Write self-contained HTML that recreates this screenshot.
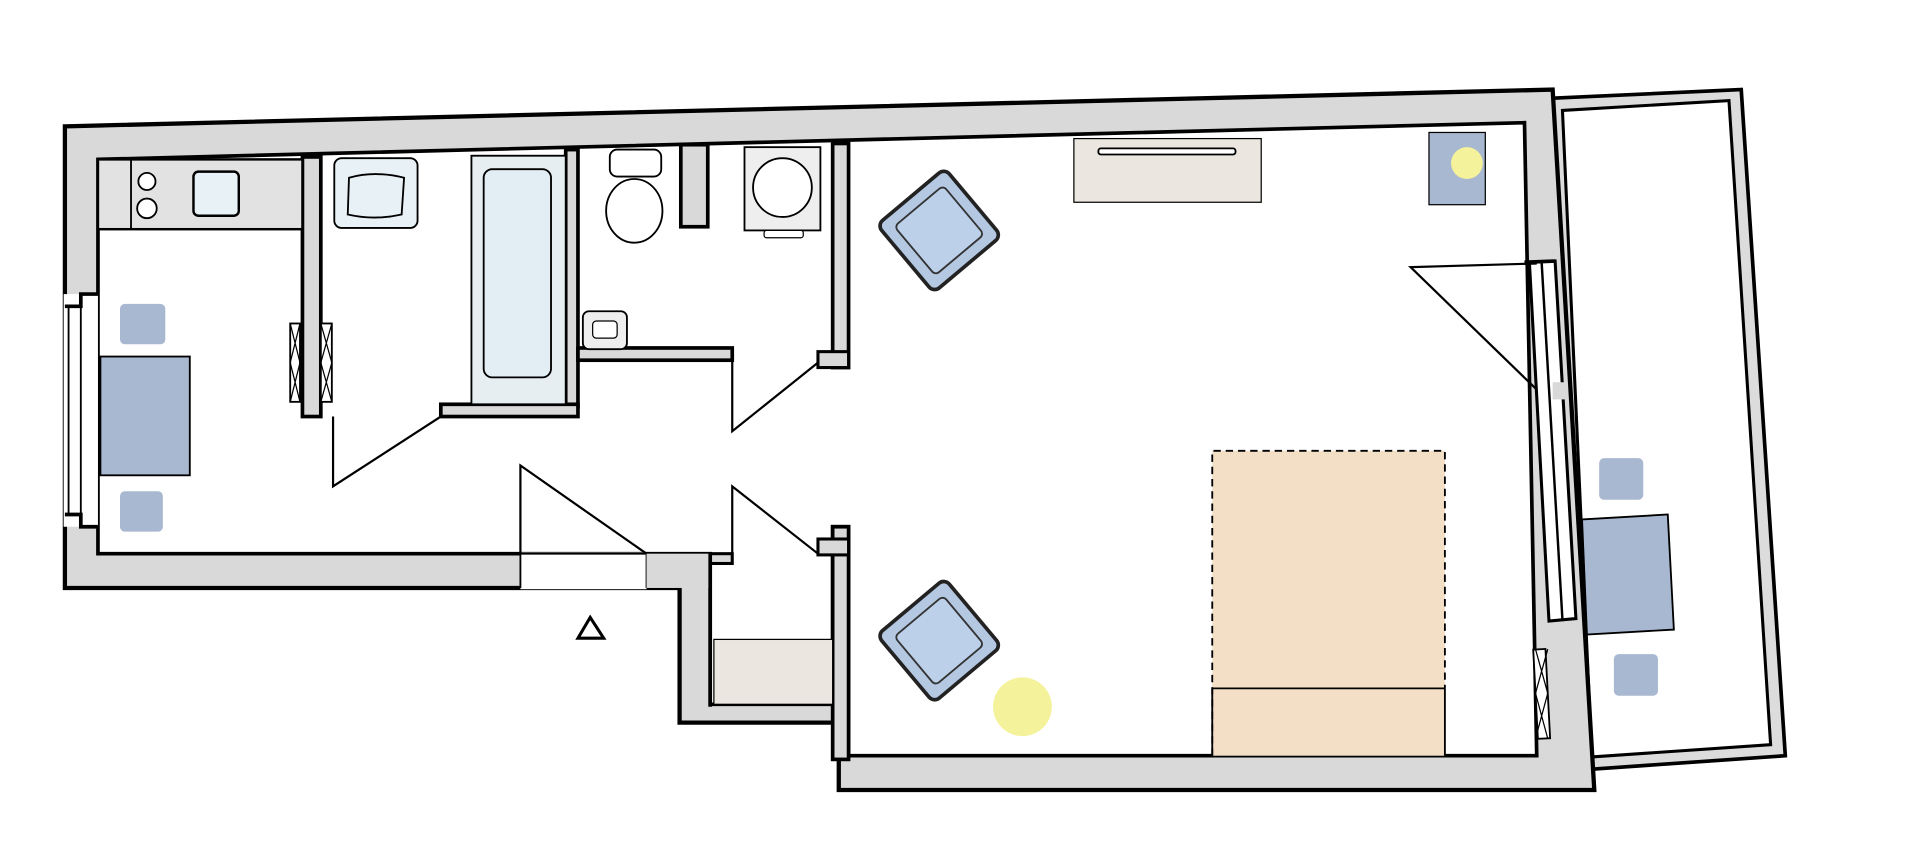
<!DOCTYPE html>
<html><head><meta charset="utf-8"><style>html,body{margin:0;padding:0;background:#fff}svg{display:block}</style></head>
<body>
<svg width="1920" height="849" viewBox="0 0 1568 693" xmlns="http://www.w3.org/2000/svg">
<g stroke="#000" stroke-linejoin="miter">
<!-- balcony -->
<polygon points="1268,80 1422,73 1458,617 1300,628" fill="#dcdcdc" stroke-width="3"/>
<polygon points="1276,90 1412,82 1446,608 1300,618" fill="#fff" stroke-width="2.5"/>
<!-- outer walls -->
<polygon points="53,103 1268,73 1302,645 685,645 685,590 555,590 555,480 53,480" fill="#d9d9d9" stroke-width="3.5"/>
<!-- interior -->
<polygon points="80,130 1245,100 1255,617 693,617 693,430 680,430 680,575 580,575 580,452 80,452" fill="#fff" stroke-width="3"/>
<!-- entrance opening -->
<rect x="425" y="451" width="103" height="30" fill="#fff" stroke="none"/>
<line x1="425" y1="452" x2="528" y2="452" stroke-width="1.5"/>
<line x1="425" y1="452" x2="425" y2="480" stroke-width="1.5"/>
<line x1="528" y1="452" x2="528" y2="480" stroke-width="1.5"/>
<rect x="528" y="452" width="52" height="28" fill="#d9d9d9" stroke="none"/>
<!-- left window -->
<rect x="52" y="240" width="28" height="190" fill="#fff" stroke="none"/>
<polyline points="80,240 66,240 66,250 53,250" fill="none" stroke-width="3"/>
<polyline points="80,430 66,430 66,420 53,420" fill="none" stroke-width="3"/>
<line x1="56" y1="250" x2="56" y2="420" stroke-width="1.5"/>
<line x1="66" y1="250" x2="66" y2="420" stroke-width="1.5"/>
<!-- interior walls -->
<rect x="247" y="128" width="15" height="212" fill="#d9d9d9" stroke-width="3"/>
<rect x="462" y="122" width="10" height="210" fill="#d9d9d9" stroke-width="3"/>
<rect x="360" y="330" width="112" height="10" fill="#d9d9d9" stroke-width="3"/>
<rect x="472" y="284" width="126" height="10" fill="#d9d9d9" stroke-width="3"/>
<rect x="556" y="118" width="22" height="67" fill="#d9d9d9" stroke-width="3"/>
<rect x="680" y="117" width="13" height="183" fill="#d9d9d9" stroke-width="3"/>
<rect x="668" y="287" width="25" height="13" fill="#d9d9d9" stroke-width="2.5"/>
<rect x="680" y="430" width="13" height="190" fill="#d9d9d9" stroke-width="3"/>
<rect x="668" y="440" width="25" height="13" fill="#d9d9d9" stroke-width="2.5"/>
<rect x="580" y="452" width="18" height="8" fill="#d9d9d9" stroke-width="2.5"/>
<line x1="580" y1="452" x2="580" y2="577" stroke-width="3"/>
<!-- right window -->
<polygon points="1249,214 1270,213 1287,505 1265,507" fill="#fff" stroke-width="2.5"/>
<line x1="1259" y1="214" x2="1276" y2="506" stroke-width="2"/>
<rect x="1268" y="312" width="12" height="14" fill="#d9d9d9" stroke="none"/>
<line x1="1245" y1="214" x2="1270" y2="213" stroke-width="3"/>
<!-- kitchen -->
<rect x="80" y="130" width="167" height="57" fill="#e2e2e2" stroke-width="2"/>
<line x1="107" y1="130" x2="107" y2="187" stroke-width="1.5"/>
<circle cx="120" cy="148" r="7" fill="#fff" stroke-width="1.5"/>
<circle cx="120" cy="170" r="8" fill="#fff" stroke-width="1.5"/>
<rect x="158" y="140" width="37" height="36" rx="4" fill="#e8f2f6" stroke-width="2"/>
<rect x="82" y="291" width="73" height="97" fill="#a8b8d0" stroke-width="1.5"/>
<rect x="98" y="248" width="37" height="33" rx="4" fill="#a8b8d0" stroke="none"/>
<rect x="98" y="401" width="35" height="33" rx="4" fill="#a8b8d0" stroke="none"/>
<rect x="237" y="264" width="8" height="64" fill="#fff" stroke-width="1.5"/>
<path d="M237,264 L245,296 L237,328 M245,264 L237,296 L245,328" fill="none" stroke-width="1"/>
<rect x="262" y="264" width="9" height="64" fill="#fff" stroke-width="1.5"/>
<path d="M262,264 L271,296 L262,328 M271,264 L262,296 L271,328" fill="none" stroke-width="1"/>
<!-- bath -->
<rect x="273" y="129" width="68" height="57" rx="6" fill="#e8f2f6" stroke-width="1.5"/>
<path d="M285,145 Q306,139 330,145 L328,175 Q306,180 284,175 Z" fill="#e8f2f6" stroke-width="1.5"/>
<rect x="385" y="127" width="77" height="203" fill="#e6eef2" stroke-width="1.5"/>
<rect x="395" y="138" width="55" height="170" rx="7" fill="#e2eef4" stroke-width="1.5"/>
<polyline points="272,340 272,397 360,340" fill="none" stroke-width="1.8"/>
<!-- WC -->
<rect x="498" y="122" width="42" height="22" rx="6" fill="#fff" stroke-width="1.5"/>
<ellipse cx="518" cy="172" rx="23" ry="26" fill="#fff" stroke-width="1.5"/>
<rect x="476" y="254" width="36" height="31" rx="5" fill="#eee" stroke-width="1.5"/>
<rect x="484" y="262" width="20" height="14" rx="3" fill="#fff" stroke-width="1"/>
<rect x="608" y="120" width="62" height="68" fill="#eee" stroke-width="1.5"/>
<circle cx="639" cy="153" r="24" fill="#fff" stroke-width="1.5"/>
<rect x="624" y="188" width="32" height="6" rx="2" fill="#fff" stroke-width="1"/>
<polyline points="598,294 598,352 668,296" fill="none" stroke-width="1.8"/>
<!-- hall doors -->
<polyline points="598,452 598,397 668,452" fill="none" stroke-width="1.8"/>
<polyline points="425,452 425,380 528,452" fill="none" stroke-width="1.8"/>
<rect x="583" y="522" width="97" height="53" fill="#ece6e0" stroke-width="1"/>
<polygon points="482,504 472,521 493,521" fill="none" stroke-width="2.5"/>
<!-- bedroom -->
<rect x="877" y="113" width="153" height="52" fill="#ece6e0" stroke-width="1"/>
<rect x="897" y="121" width="112" height="5" rx="2" fill="#fff" stroke-width="1.5"/>
<rect x="1167" y="108" width="46" height="59" fill="#a8b8d0" stroke-width="1"/>
<circle cx="1198" cy="133" r="13" fill="#f4f29a" stroke="none"/>
<polyline points="1255,318 1152,218 1255,215" fill="none" stroke-width="1.8"/>
<rect x="990" y="368" width="190" height="249" fill="#f3dfc6" stroke="none"/>
<path d="M990,617 L990,368 L1180,368 L1180,562" fill="none" stroke-width="1.5" stroke-dasharray="6,4"/>
<line x1="990" y1="562" x2="1180" y2="562" stroke-width="1.5"/>
<line x1="990" y1="562" x2="990" y2="617" stroke-width="1.5"/>
<line x1="1180" y1="562" x2="1180" y2="617" stroke-width="1.5"/>
<circle cx="835" cy="577" r="24" fill="#f4f29a" stroke="none"/>
<rect x="1254" y="530" width="10" height="73" fill="#fff" stroke-width="1.5" transform="rotate(-3 1259 566)"/>
<path d="M1254,530 L1264,566 L1254,603 M1264,530 L1254,566 L1264,603" fill="none" stroke-width="1"/>
<!-- armchairs -->
<g transform="translate(767,188) rotate(-40)">
<rect x="-36" y="-36" width="72" height="72" rx="6" fill="#b5c8e2" stroke="#222" stroke-width="3"/>
<rect x="-26" y="-26" width="52" height="52" rx="4" fill="#bcd0ea" stroke="#333" stroke-width="1.5"/>
</g>
<g transform="translate(767,523) rotate(-40)">
<rect x="-36" y="-36" width="72" height="72" rx="6" fill="#b5c8e2" stroke="#222" stroke-width="3"/>
<rect x="-26" y="-26" width="52" height="52" rx="4" fill="#bcd0ea" stroke="#333" stroke-width="1.5"/>
</g>
<!-- balcony furniture -->
<polygon points="1292,424 1362,420 1367,514 1296,518" fill="#a8b8d0" stroke-width="1.5"/>
<rect x="1306" y="374" width="36" height="34" rx="4" fill="#a8b8d0" stroke="none"/>
<rect x="1318" y="534" width="36" height="34" rx="4" fill="#a8b8d0" stroke="none"/>
</g>
</svg>
</body></html>
